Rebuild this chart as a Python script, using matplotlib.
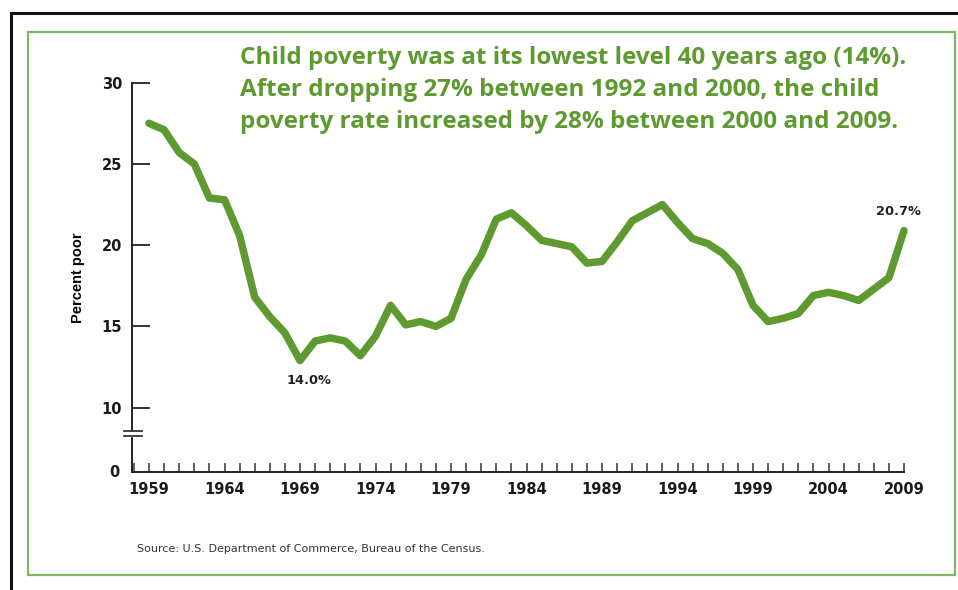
import matplotlib
matplotlib.use('Agg')
import matplotlib.pyplot as plt
from matplotlib.lines import Line2D
from matplotlib.patches import Rectangle
from matplotlib.ticker import MultipleLocator

# data (values as drawn against the axis)
years = list(range(1959, 2010))
rate = [27.5, 27.1, 25.7, 25.0, 22.9, 22.8, 20.6, 16.8, 15.6, 14.6,
        12.9, 14.1, 14.3, 14.1, 13.2, 14.4, 16.3, 15.1, 15.3, 15.0,
        15.5, 17.9, 19.4, 21.6, 22.0, 21.2, 20.3, 20.1, 19.9, 18.9,
        19.0, 20.2, 21.5, 22.0, 22.5, 21.4, 20.4, 20.1, 19.5, 18.5,
        16.3, 15.3, 15.5, 15.8, 16.9, 17.1, 16.9, 16.6, 17.3, 18.0,
        20.9]
label_years = list(range(1959, 2010, 5))
y_ticks = [10, 15, 20, 25, 30]
title_lines = ["Child poverty was at its lowest level 40 years ago (14%).",
               "After dropping 27% between 1992 and 2000, the child",
               "poverty rate increased by 28% between 2000 and 2009."]

green = '#5e9a30'
W, H = 958, 590

fig = plt.figure(figsize=(9.58, 5.90), dpi=100)
ax = fig.add_axes([132 / W, 1 - 472 / H, (904 - 132) / W, (472 - 82.7) / H])

ax.plot(years, rate, color=green, lw=5.4, solid_joinstyle='round', solid_capstyle='round',
        clip_on=False, zorder=4)

ymin = 10 - (472 - 407.7) / 16.25
ax.set_xlim(1959 - 17 / 15.1, 2009)
ax.set_ylim(ymin, 30)

for s in ['top', 'right']:
    ax.spines[s].set_visible(False)
for s in ['left', 'bottom']:
    ax.spines[s].set_linewidth(1.4)
    ax.spines[s].set_color('#222222')

ax.set_xticks(label_years)
ax.set_xticklabels([str(y) for y in label_years])
ax.xaxis.set_minor_locator(MultipleLocator(1))
ax.tick_params(axis='x', which='both', direction='in', length=6.5, width=1.1, color='#333333')
ax.tick_params(axis='x', which='major', labelsize=10.5, pad=7)
ax.set_yticks(y_ticks)
ax.tick_params(axis='y', direction='in', length=13, width=1.4, color='#333333',
               labelsize=10.5, pad=7)
for lab in ax.get_xticklabels() + ax.get_yticklabels():
    lab.set_fontweight('bold')
    lab.set_color('#1a1a1a')

# "0" at the base of the broken axis
ax.text(-0.016, ymin, '0', transform=ax.get_yaxis_transform(), ha='right', va='center',
        fontsize=10.5, fontweight='bold', color='#1a1a1a')

# axis break marks
bx = ax.get_yaxis_transform()
yb1 = 10 - (430.5 - 407.7) / 16.25
yb2 = 10 - (436 - 407.7) / 16.25
ax.add_patch(Rectangle((-0.005, yb2), 0.01, yb1 - yb2, transform=bx, color='white',
                       zorder=5, clip_on=False))
for yb in [yb1, yb2]:
    ax.add_line(Line2D([-0.011, 0.013], [yb, yb], transform=bx, color='#333333', lw=1.3,
                       zorder=6, clip_on=False))

ax.set_ylabel('Percent poor', fontsize=10.5, fontweight='bold', family='Liberation Sans',
              labelpad=12)

ax.annotate('14.0%', (1969, rate[10]), xytext=(309, H - 380.7), textcoords='figure pixels',
            ha='center', va='center', fontsize=9.3, fontweight='bold', color='#222222')
ax.annotate('20.7%', (2009, rate[-1]), xytext=(898, H - 211.7), textcoords='figure pixels',
            ha='center', va='center', fontsize=9.3, fontweight='bold', color='#222222')

for i, line in enumerate(title_lines):
    fig.text(240 / W, 1 - (58 + 32 * i) / H, line, ha='left', va='center', fontsize=17.5,
             fontweight='bold', family='Open Sans', color=green)

fig.text(137 / W, 1 - 549 / H, 'Source: U.S. Department of Commerce, Bureau of the Census.',
         ha='left', va='center', fontsize=8, color='#333333')

# frames
fig.add_artist(Rectangle((28 / W, 1 - 575 / H), (955 - 28) / W, (575 - 32) / H,
                         transform=fig.transFigure, fill=False, ec='#7fb862', lw=1.6))
fig.add_artist(Line2D([11 / W, 1], [1 - 13 / H, 1 - 13 / H], transform=fig.transFigure,
                      color='#111111', lw=2.2))
fig.add_artist(Line2D([11 / W, 11 / W], [0, 1 - 13 / H], transform=fig.transFigure,
                      color='#111111', lw=2.2))

fig.savefig('out.png', dpi=100)
